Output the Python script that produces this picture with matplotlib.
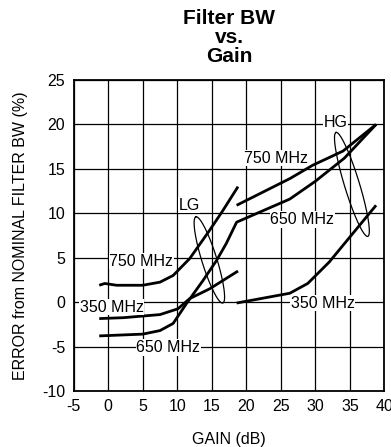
import numpy as np
import matplotlib
matplotlib.use('Agg')
import matplotlib.pyplot as plt

plt.rcParams['font.family'] = ['Liberation Sans', 'DejaVu Sans']
plt.rcParams['axes.unicode_minus'] = False

# low gain (LG) curves, x = gain (dB), y = error (%)
lg750_gain = [-1.3, -0.5, 1.2, 5.0, 7.5, 9.4, 11.8, 14.7, 16.6, 18.8]
lg750_err = [1.9, 2.1, 1.9, 1.9, 2.25, 3.0, 4.9, 8.1, 10.3, 13.0]

lg350_gain = [-1.3, 2.2, 7.5, 10.1, 11.8, 14.7, 18.8]
lg350_err = [-1.85, -1.75, -1.4, -0.75, 0.4, 1.5, 3.5]

# 650 MHz runs through both gain ranges
g650_gain = [-1.3, 5.0, 7.5, 9.4, 11.3, 13.7, 15.7, 17.1, 18.6,
             26.3, 30.0, 34.2, 38.8]
g650_err = [-3.8, -3.6, -3.2, -2.4, -0.2, 2.4, 4.7, 6.6, 9.0,
            11.6, 13.6, 16.2, 20.0]

# high gain (HG) curves
hg750_gain = [18.6, 26.3, 29.6, 34.0, 38.8]
hg750_err = [10.9, 13.9, 15.4, 17.0, 20.0]

hg350_gain = [18.6, 26.3, 28.9, 32.0, 35.4, 38.8]
hg350_err = [-0.1, 1.0, 2.1, 4.5, 7.7, 10.9]

# ellipses: top point, bottom point
lg_ell = [(12.7, 9.6), (16.6, -0.1)]
hg_ell = [(33.0, 19.1), (37.6, 7.4)]

fig = plt.figure(figsize=(3.91, 4.47), dpi=100)
ax = fig.add_axes([0.1885, 0.1253, 0.7945, 0.6957])

ax.set_xlim(-5, 40)
ax.set_ylim(-10, 25)
ax.set_xticks(np.arange(-5, 41, 5))
ax.set_yticks(np.arange(-10, 26, 5))
ax.grid(True, color='black', linewidth=0.9)
ax.tick_params(length=0, labelsize=11.5, pad=6)
for s in ax.spines.values():
    s.set_linewidth(1.3)

lw = 2.0
for gx, gy in [(lg750_gain, lg750_err), (lg350_gain, lg350_err),
               (g650_gain, g650_err), (hg750_gain, hg750_err),
               (hg350_gain, hg350_err)]:
    ax.plot(gx, gy, color='black', linewidth=lw, solid_capstyle='butt', zorder=3)


def draw_ellipse(ax, top, bot, half_w_px):
    # build the ellipse in display space so it keeps its shape
    p1 = ax.transData.transform(top)
    p2 = ax.transData.transform(bot)
    c = (p1 + p2) / 2
    a = (p1 - p2) / 2
    n = np.array([-a[1], a[0]]) / np.hypot(*a) * half_w_px
    t = np.linspace(0, 2 * np.pi, 200)
    pts = c + np.outer(np.cos(t), a) + np.outer(np.sin(t), n)
    pts = ax.transData.inverted().transform(pts)
    ax.plot(pts[:, 0], pts[:, 1], color='black', linewidth=0.9, zorder=3)


draw_ellipse(ax, lg_ell[0], lg_ell[1], 7.5)
draw_ellipse(ax, hg_ell[0], hg_ell[1], 7.5)

box = dict(facecolor='white', edgecolor='none', pad=0.5)
labels = [('LG', 11.7, 10.9), ('750 MHz', 4.8, 4.6), ('350 MHz', 0.5, -0.55),
          ('650 MHz', 8.7, -5.1), ('HG', 32.9, 20.2), ('750 MHz', 24.3, 16.2),
          ('650 MHz', 28.1, 9.3), ('350 MHz', 31.1, -0.1)]
for txt, x, y in labels:
    ax.text(x, y, txt, fontsize=11.5, ha='center', va='center', bbox=box, zorder=4)

ax.set_xlabel('GAIN (dB)', fontsize=11.5, labelpad=13)
ax.set_ylabel('ERROR from NOMINAL FILTER BW (%)', fontsize=11.5, labelpad=10)
ax.set_title('Filter BW\nvs.\nGain', fontsize=15, fontweight='bold',
             linespacing=1.0, pad=13)

fig.savefig('out.png', dpi=100)
